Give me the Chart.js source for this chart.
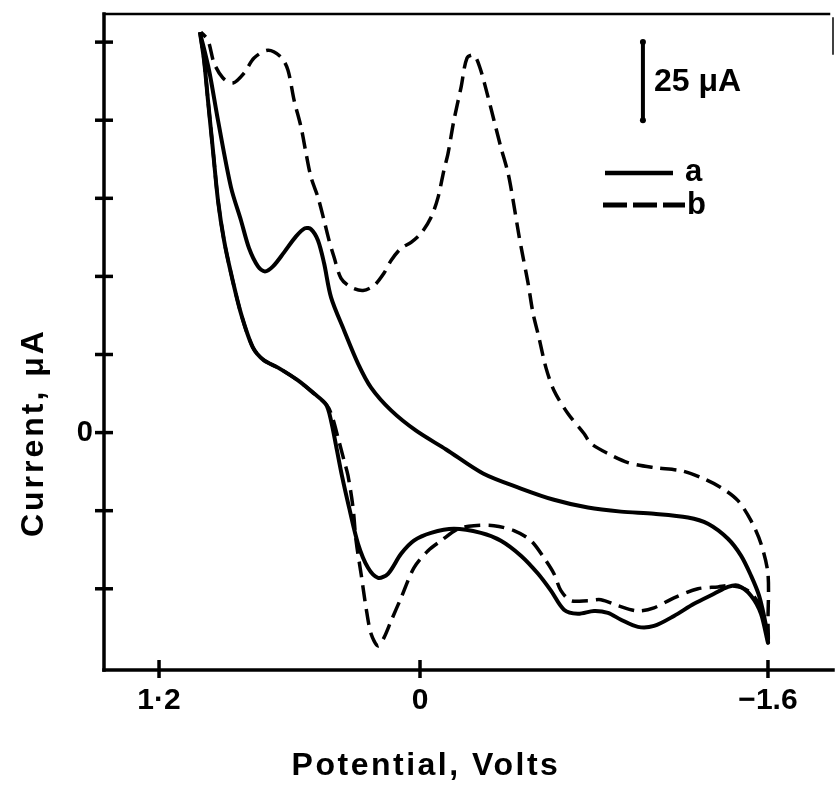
<!DOCTYPE html>
<html lang="en">
<head>
<meta charset="utf-8">
<title>Cyclic voltammograms a and b</title>
<script src="https://cdn.jsdelivr.net/npm/chart.js@4.4.1/dist/chart.umd.min.js"></script>
<style>
    html, body { margin: 0; padding: 0; background: #fff; }
    #wrap { width: 835px; height: 785px; position: relative; }
</style>
</head>
<body>
<div id="wrap"><canvas id="cv" width="835" height="785"></canvas></div>
<script>
"use strict";

// Potential (V) and current (uA) in scan order:
// from the anodic limit down to -1.6 V, then back.
const curveAPotential = [
    1.012, 0.993, 0.975, 0.952, 0.929, 0.901, 0.869, 0.823, 0.768, 0.717,
    0.653, 0.561, 0.487, 0.432, 0.409, 0.386, 0.359, 0.326, 0.285, 0.239,
    0.193, 0.147, 0.087, 0.028, -0.051, -0.156, -0.280, -0.372, -0.464, -0.543,
    -0.602, -0.662, -0.726, -0.800, -0.864, -0.924, -1.002, -1.076, -1.168, -1.260,
    -1.352, -1.416, -1.462, -1.522, -1.568, -1.600,
    -1.591, -1.559, -1.522, -1.476, -1.416, -1.324, -1.232, -1.076, -0.924, -0.772,
    -0.616, -0.464, -0.290, -0.120, 0.018, 0.133, 0.225, 0.285, 0.349, 0.409,
    0.441, 0.469, 0.501, 0.529, 0.570, 0.625, 0.676, 0.713, 0.745, 0.786,
    0.823, 0.869, 0.929, 0.970, 1.012
];
const curveACurrent = [
    128.2, 119.2, 106.4, 90.4, 74.4, 61.5, 51.0, 38.1, 27.2, 23.1,
    20.8, 16.7, 12.5, 9.0, 3.8, -4.2, -13.8, -24.0, -35.6, -43.3,
    -46.5, -45.2, -38.8, -34.6, -32.1, -30.8, -32.1, -34.6, -39.4, -45.2,
    -50.6, -56.7, -58.0, -57.1, -57.7, -59.9, -62.2, -61.9, -58.7, -54.8,
    -51.6, -49.4, -49.0, -52.2, -58.0, -67.3,
    -61.9, -52.2, -45.8, -39.4, -34.0, -29.2, -27.2, -26.0, -25.3, -24.0,
    -21.5, -17.9, -13.1, -5.4, 0.6, 7.1, 14.4, 22.1, 32.7, 43.3,
    54.2, 61.5, 65.1, 65.4, 62.8, 57.7, 53.2, 51.6, 53.2, 59.0,
    67.9, 78.5, 100.0, 116.0, 128.2
];

const curveBPotential = [
    1.012, 0.993, 0.975, 0.952, 0.929, 0.901, 0.869, 0.823, 0.768, 0.717,
    0.653, 0.561, 0.487, 0.428, 0.405, 0.377, 0.349, 0.331, 0.308, 0.294,
    0.271, 0.248, 0.225, 0.193, 0.166, 0.133, 0.087, 0.028, -0.037, -0.097,
    -0.175, -0.248, -0.340, -0.432, -0.510, -0.570, -0.616, -0.648, -0.694, -0.772,
    -0.832, -0.910, -1.002, -1.076, -1.168, -1.278, -1.370, -1.430, -1.508, -1.568,
    -1.600,
    -1.600, -1.600, -1.568, -1.522, -1.462, -1.384, -1.292, -1.200, -1.076, -0.956,
    -0.864, -0.786, -0.754, -0.680, -0.616, -0.579, -0.547, -0.520, -0.497, -0.474,
    -0.455, -0.428, -0.405, -0.372, -0.340, -0.313, -0.276, -0.248, -0.216, -0.189,
    -0.156, -0.129, -0.110, -0.083, -0.051, -0.005, 0.041, 0.087, 0.133, 0.166,
    0.211, 0.262, 0.317, 0.363, 0.395, 0.418, 0.441, 0.469, 0.501, 0.524,
    0.547, 0.579, 0.607, 0.639, 0.699, 0.763, 0.809, 0.860, 0.906, 0.947,
    0.975, 1.007
];
const curveBCurrent = [
    128.2, 119.2, 106.4, 90.4, 74.4, 61.5, 51.0, 38.1, 27.2, 23.1,
    20.8, 16.7, 12.5, 8.7, 5.4, -1.6, -9.0, -13.8, -24.0, -34.6,
    -45.2, -56.1, -64.4, -68.3, -65.7, -60.3, -52.9, -43.3, -37.8, -34.6,
    -30.8, -29.8, -29.8, -31.4, -34.6, -40.1, -45.2, -50.6, -53.8, -53.8,
    -53.5, -55.4, -57.1, -56.1, -52.9, -50.0, -49.4, -49.0, -50.6, -56.1,
    -66.7,
    -60.3, -45.2, -35.6, -28.2, -21.8, -17.6, -14.4, -12.2, -11.2, -9.6,
    -6.7, -3.5, -0.3, 6.1, 13.5, 20.8, 30.4, 38.1, 47.8, 56.1,
    63.1, 74.4, 83.0, 91.3, 100.0, 107.4, 116.7, 120.8, 119.9, 110.6,
    100.0, 89.4, 84.0, 75.3, 68.9, 63.8, 60.9, 59.0, 55.1, 51.0,
    47.1, 45.5, 46.5, 49.4, 56.1, 61.5, 67.9, 75.3, 81.7, 89.4,
    97.8, 106.4, 116.0, 120.2, 122.4, 119.9, 115.1, 111.9, 113.5, 118.3,
    125.6, 128.2
];

const xTickValues = [1.2, 0, -1.6];
const xTickLabels = ["1·2", "0", "−1.6"];
const yTickValues = [-50, -25, 0, 25, 50, 75, 100, 125];
const yTickLabels = ["", "", "0", "", "", "", "", ""];

const scaleBarValues = [100, 125];   // 25 uA bar
const scaleBarPotential = -1.025;

const FONT = "'Liberation Sans', Arial, Helvetica, sans-serif";

function toPoints(xs, ys) {
    return xs.map((x, i) => ({ x, y: ys[i] }));
}

function strokeLine(ctx, x1, y1, x2, y2, width) {
    ctx.lineWidth = width;
    ctx.beginPath();
    ctx.moveTo(x1, y1);
    ctx.lineTo(x2, y2);
    ctx.stroke();
}

// axes frame with crossing tick marks
const framePlugin = {
    id: "frame",
    beforeDatasetsDraw(chart) {
        const { ctx, chartArea: a, scales } = chart;
        ctx.save();
        ctx.strokeStyle = "#000";
        ctx.lineCap = "square";

        strokeLine(ctx, a.left, a.top, a.left, a.bottom, 3.5);
        strokeLine(ctx, a.left, a.bottom, a.right, a.bottom, 3.5);
        strokeLine(ctx, a.left, a.top, a.right - 4, a.top, 2.5);
        strokeLine(ctx, a.right, a.top + 4, a.right, a.top + 40, 1.5);

        ctx.lineCap = "butt";
        for (const v of yTickValues) {
            const py = scales.y.getPixelForValue(v);
            strokeLine(ctx, a.left - 9, py, a.left + 9, py, 3.5);
        }
        for (const v of xTickValues) {
            const px = scales.x.getPixelForValue(v);
            strokeLine(ctx, px, a.bottom - 10, px, a.bottom + 8, 3.5);
        }
        ctx.restore();
    }
};

// axis titles, scale bar and the a / b key
const annotationPlugin = {
    id: "annotations",
    afterDraw(chart) {
        const { ctx, chartArea: a, scales } = chart;
        ctx.save();
        ctx.fillStyle = "#000";
        ctx.strokeStyle = "#000";
        ctx.font = "bold 32px " + FONT;

        // y title, centred on the zero line
        ctx.save();
        ctx.translate(43, scales.y.getPixelForValue(0));
        ctx.rotate(-Math.PI / 2);
        ctx.textAlign = "center";
        ctx.textBaseline = "alphabetic";
        ctx.letterSpacing = "3px";
        ctx.fillText("Current, μA", 0, 0);
        ctx.restore();

        // x title, centred under 0 V
        ctx.save();
        ctx.textAlign = "center";
        ctx.textBaseline = "alphabetic";
        ctx.letterSpacing = "2.5px";
        ctx.fillText("Potential, Volts", scales.x.getPixelForValue(0) + 6, 775);
        ctx.restore();

        // 25 uA scale bar
        const bx = scales.x.getPixelForValue(scaleBarPotential);
        const by1 = scales.y.getPixelForValue(scaleBarValues[0]);
        const by2 = scales.y.getPixelForValue(scaleBarValues[1]);
        strokeLine(ctx, bx, by1, bx, by2, 4);
        for (const by of [by1, by2]) {
            ctx.beginPath();
            ctx.arc(bx, by, 3, 0, Math.PI * 2);
            ctx.fill();
        }
        ctx.font = "bold 32px " + FONT;
        ctx.textAlign = "left";
        ctx.fillText("25 μA", bx + 11, 91);

        // key
        const kx = a.left + 501;
        strokeLine(ctx, kx, 173, kx + 68, 173, 4.5);
        ctx.save();
        ctx.setLineDash([24, 6]);
        strokeLine(ctx, kx - 2, 205, kx + 80, 205, 5);
        ctx.restore();
        ctx.font = "bold 31px " + FONT;
        ctx.fillText("a", kx + 80, 181);
        ctx.fillText("b", kx + 82, 214);

        ctx.restore();
    }
};

function createChart() {
    const canvas = document.getElementById("cv");

    return new Chart(canvas, {
        type: "scatter",
        data: {
            datasets: [{
                label: "a",
                data: toPoints(curveAPotential, curveACurrent),
                showLine: true,
                borderColor: "#000",
                borderWidth: 4,
                pointRadius: 0,
                tension: 0.3
            }, {
                label: "b",
                data: toPoints(curveBPotential, curveBCurrent),
                showLine: true,
                borderColor: "#000",
                borderWidth: 3.5,
                borderDash: [16, 8],
                pointRadius: 0,
                tension: 0.3
            }]
        },
        options: {
            responsive: false,
            devicePixelRatio: 1,
            animation: false,
            layout: { padding: { top: 14, right: 2, left: 0, bottom: 0 } },
            scales: {
                x: {
                    type: "linear",
                    reverse: true,
                    min: -1.899,
                    max: 1.453,
                    grid: { display: false, drawTicks: false },
                    border: { display: false },
                    afterBuildTicks: (scale) => {
                        scale.ticks = xTickValues.map((value) => ({ value }));
                    },
                    afterFit: (scale) => {
                        scale.height = 115;
                        scale.paddingLeft = 0;
                        scale.paddingRight = 0;
                    },
                    ticks: {
                        color: "#000",
                        padding: 13,
                        maxRotation: 0,
                        autoSkip: false,
                        font: { family: FONT, size: 30, weight: "bold" },
                        callback: (value) => xTickLabels[xTickValues.indexOf(value)] ?? ""
                    }
                },
                y: {
                    type: "linear",
                    min: -76,
                    max: 134,
                    grid: { display: false, drawTicks: false },
                    border: { display: false },
                    afterBuildTicks: (scale) => {
                        scale.ticks = yTickValues.map((value) => ({ value }));
                    },
                    afterFit: (scale) => {
                        scale.width = 104;
                        scale.paddingTop = 0;
                        scale.paddingBottom = 0;
                    },
                    ticks: {
                        color: "#000",
                        padding: 11,
                        autoSkip: false,
                        font: { family: FONT, size: 29, weight: "bold" },
                        callback: (value) => yTickLabels[yTickValues.indexOf(value)] ?? ""
                    }
                }
            },
            plugins: {
                legend: { display: false },
                tooltip: { enabled: false }
            }
        },
        plugins: [framePlugin, annotationPlugin]
    });
}

createChart();
</script>
</body>
</html>
